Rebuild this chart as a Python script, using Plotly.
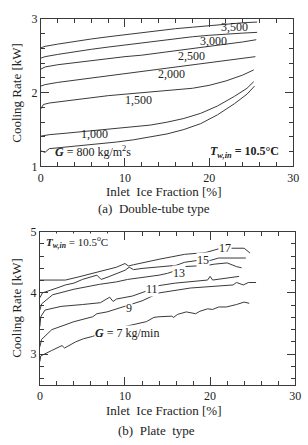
import plotly.graph_objects as go

# ---------------- (a) Double-tube type ----------------
a_x_3500 = [0, 0.5, 2, 4, 6, 8, 10, 12, 14, 16, 18, 20, 22, 24, 25.7]
a_y_3500 = [2.61, 2.63, 2.66, 2.70, 2.73, 2.76, 2.79, 2.82, 2.85, 2.87, 2.89, 2.91, 2.94, 2.95, 2.96]
a_x_3000 = [0, 0.5, 2, 4, 6, 8, 10, 12, 14, 16, 18, 20, 22, 24, 25.7]
a_y_3000 = [2.47, 2.49, 2.52, 2.56, 2.59, 2.62, 2.65, 2.68, 2.71, 2.74, 2.76, 2.78, 2.80, 2.81, 2.82]
a_x_2500 = [0, 0.5, 2, 4, 6, 8, 10, 12, 14, 16, 18, 20, 22, 24, 25.6]
a_y_2500 = [2.32, 2.35, 2.38, 2.41, 2.44, 2.47, 2.49, 2.51, 2.54, 2.56, 2.59, 2.62, 2.66, 2.69, 2.72]
a_x_2000 = [0, 0.5, 2, 4, 6, 8, 10, 12, 14, 16, 18, 20, 22, 24, 25.5]
a_y_2000 = [2.09, 2.11, 2.14, 2.17, 2.20, 2.23, 2.26, 2.29, 2.32, 2.35, 2.38, 2.41, 2.44, 2.46, 2.49]
a_x_1500 = [0, 0.3, 1, 3, 5, 8, 10, 12, 14, 16, 18, 20, 22, 24, 25.3]
a_y_1500 = [1.78, 1.84, 1.86, 1.89, 1.92, 1.96, 1.98, 2.00, 2.02, 2.04, 2.06, 2.10, 2.16, 2.24, 2.31]
a_x_1000 = [0, 1, 3, 5, 7, 9, 11, 13, 15, 17, 19, 21, 23, 24.5, 25.3]
a_y_1000 = [1.41, 1.43, 1.45, 1.47, 1.49, 1.51, 1.53, 1.56, 1.60, 1.65, 1.72, 1.82, 1.95, 2.06, 2.15]
a_x_800 = [0, 0.5, 1, 3, 5, 7, 9, 11, 13, 15, 17, 19, 21, 23, 24.5, 25.4]
a_y_800 = [1.21, 1.19, 1.24, 1.26, 1.28, 1.30, 1.33, 1.36, 1.40, 1.44, 1.50, 1.58, 1.70, 1.85, 1.98, 2.09]

a_labels = ["3,500", "3,000", "2,500", "2,000", "1,500", "1,000"]
a_label_x = [23.0, 20.5, 17.9, 15.5, 11.6, 6.4]
a_label_y = [2.89, 2.70, 2.50, 2.26, 1.90, 1.435]

# ---------------- (b) Plate type ----------------
b_x_17 = [0, 1.5, 3, 4.5, 6, 7.5, 9, 10, 10.4, 11, 12.5, 14, 15.5, 17, 19.5, 20.5, 21, 22.3, 24, 24.7]
b_y_17 = [4.21, 4.21, 4.21, 4.26, 4.31, 4.37, 4.42, 4.48, 4.44, 4.46, 4.51, 4.55, 4.59, 4.63, 4.66, 4.70, 4.72, 4.73, 4.73, 4.65]
b_x_15 = [0, 0.3, 2, 3, 4, 5, 6.7, 7.2, 8, 10, 10.5, 11, 12, 14, 16, 17, 18.5, 20, 21, 22, 24.2]
b_y_15 = [3.92, 4.00, 4.08, 4.13, 4.16, 4.22, 4.29, 4.22, 4.26, 4.37, 4.42, 4.38, 4.40, 4.43, 4.45, 4.50, 4.53, 4.53, 4.57, 4.57, 4.57]
b_x_13 = [0, 0.2, 1.5, 4, 7, 9, 10.3, 12.5, 14, 15, 16.3, 17, 19.7, 20.5, 22, 23.1, 23.7]
b_y_13 = [3.72, 3.82, 3.97, 4.06, 4.14, 4.18, 4.22, 4.26, 4.29, 4.32, 4.38, 4.43, 4.45, 4.47, 4.49, 4.43, 4.41]
b_x_11 = [0, 0.1, 0.6, 2.5, 5, 7.1, 8.2, 8.6, 9, 10.9, 12.5, 14, 15.9, 19.7, 20, 20.3, 23.4]
b_y_11 = [3.45, 3.61, 3.72, 3.78, 3.81, 3.84, 3.93, 3.86, 3.90, 3.95, 4.03, 4.12, 4.16, 4.21, 4.27, 4.21, 4.27]
b_x_9 = [0, 0.2, 1.4, 2.9, 4.0, 6.2, 6.7, 7.9, 9.7, 12.0, 14, 17.7, 22.7, 23.1, 23.9, 24.5, 25.4]
b_y_9 = [3.12, 3.24, 3.40, 3.48, 3.53, 3.61, 3.66, 3.69, 3.77, 3.87, 4.00, 4.08, 4.13, 4.17, 4.13, 4.17, 4.17]
b_x_7 = [0, 0.1, 1.4, 2.6, 2.9, 4.2, 5.1, 6.2, 9, 12.5, 13.4, 14, 15.5, 15.7, 16.2, 17.2, 18.3, 18.8, 19.7, 20.3, 21, 21.9, 23.1, 24, 24.6]
b_y_7 = [2.88, 2.97, 3.06, 3.14, 3.10, 3.20, 3.25, 3.29, 3.42, 3.53, 3.60, 3.61, 3.62, 3.60, 3.65, 3.69, 3.66, 3.70, 3.74, 3.73, 3.77, 3.77, 3.81, 3.85, 3.83]

b_labels = ["17", "15", "13", "11", "9"]
b_label_x = [21.7, 19.2, 16.3, 13.2, 10.5]
b_label_y = [4.74, 4.53, 4.33, 4.07, 3.75]

x_ticks = [0, 10, 20, 30]
a_y_ticks = [1, 2, 3]
b_y_ticks = [3, 4, 5]

W, H = 308, 445
LINE = "#3a3a3a"
TXT = "#222222"
FONT = "Liberation Serif"

fig = go.Figure()

for xs, ys in [(a_x_3500, a_y_3500), (a_x_3000, a_y_3000), (a_x_2500, a_y_2500),
               (a_x_2000, a_y_2000), (a_x_1500, a_y_1500), (a_x_1000, a_y_1000),
               (a_x_800, a_y_800)]:
    fig.add_trace(go.Scatter(x=xs, y=ys, mode="lines", xaxis="x", yaxis="y",
                             line=dict(color=LINE, width=1), showlegend=False, hoverinfo="skip"))

for xs, ys in [(b_x_17, b_y_17), (b_x_15, b_y_15), (b_x_13, b_y_13),
               (b_x_11, b_y_11), (b_x_9, b_y_9), (b_x_7, b_y_7)]:
    fig.add_trace(go.Scatter(x=xs, y=ys, mode="lines", xaxis="x2", yaxis="y2",
                             line=dict(color=LINE, width=1), showlegend=False, hoverinfo="skip"))


def px_dom(a, b, total):
    return [a / total, b / total]


def axis_common(rng, minor_dtick, tickvals, domain, anchor):
    return dict(
        range=rng, domain=domain, anchor=anchor,
        showline=True, linecolor=LINE, linewidth=1, mirror="ticks",
        ticks="inside", ticklen=8, tickwidth=1, tickcolor=LINE,
        tickvals=tickvals, ticktext=[str(v) for v in tickvals],
        minor=dict(ticks="inside", dtick=minor_dtick, ticklen=4, tickwidth=1, tickcolor=LINE, showgrid=False),
        showgrid=False, zeroline=False,
        tickfont=dict(family=FONT, size=12, color=TXT),
    )


fig.update_layout(
    width=W, height=H, margin=dict(l=0, r=0, t=0, b=0),
    paper_bgcolor="white", plot_bgcolor="white",
    xaxis=axis_common([0, 30], 2, x_ticks, px_dom(39, 299, W), "y"),
    yaxis=axis_common([1, 3], 0.2, a_y_ticks, [1 - 164.5 / H, 1 - 12.5 / H], "x"),
    xaxis2=axis_common([0, 30], 2, x_ticks, px_dom(38, 301, W), "y2"),
    yaxis2=axis_common([2.5, 5], 0.2, b_y_ticks, [1 - 390 / H, 1 - 232 / H], "x2"),
)

ann = []
# curve labels (a)
for t, x, y in zip(a_labels, a_label_x, a_label_y):
    ann.append(dict(x=x, y=y, xref="x", yref="y", text=t, showarrow=False,
                    font=dict(family=FONT, size=12, color=TXT)))
ann.append(dict(x=1.5, y=1.20, xref="x", yref="y", xanchor="left",
                text="<b><i>G</i></b> = 800 kg/m<sup>2</sup>s", showarrow=False,
                font=dict(family=FONT, size=12, color=TXT)))
ann.append(dict(x=28.5, y=1.20, xref="x", yref="y", xanchor="right",
                text="<b><i>T</i><sub><i>w,in</i></sub> = 10.5°C</b>", showarrow=False,
                font=dict(family=FONT, size=12, color=TXT)))
# curve labels (b)
for t, x, y in zip(b_labels, b_label_x, b_label_y):
    ann.append(dict(x=x, y=y, xref="x2", yref="y2", text=t, showarrow=False,
                    bgcolor="white", borderpad=0,
                    font=dict(family=FONT, size=12, color=TXT)))
ann.append(dict(x=6.3, y=3.34, xref="x2", yref="y2", xanchor="left",
                text="<b><i>G</i></b> = 7 kg/min", showarrow=False, bgcolor="white", borderpad=0,
                font=dict(family=FONT, size=12, color=TXT)))
ann.append(dict(x=0.6, y=4.83, xref="x2", yref="y2", xanchor="left",
                text="<b><i>T<sub>w,in</sub></i></b> = 10.5<sup>o</sup>C", showarrow=False,
                bgcolor="white", borderpad=0,
                font=dict(family=FONT, size=11, color=TXT)))

# axis titles and captions (pixel positions -> paper)
def P(xp, yp):
    return xp / W, 1 - yp / H

for txt, xp, yp, size, ang in [
    ("Cooling Rate [kW]", 14, 89, 13, -90),
    ("Inlet  Ice Fraction [%]", 166, 190, 13, 0),
    ("(a)  Double-tube type", 156, 208, 13, 0),
    ("Cooling Rate [kW]", 14, 311, 13, -90),
    ("Inlet  Ice Fraction [%]", 166, 417, 13, 0),
    ("(b)  Plate  type", 158, 437, 13, 0),
]:
    x, y = P(xp, yp)
    ann.append(dict(x=x, y=y, xref="paper", yref="paper", text=txt, showarrow=False,
                    textangle=ang, xanchor="center", yanchor="middle",
                    font=dict(family=FONT, size=size, color=TXT)))

fig.update_layout(annotations=ann)
fig.write_html("out.html")
